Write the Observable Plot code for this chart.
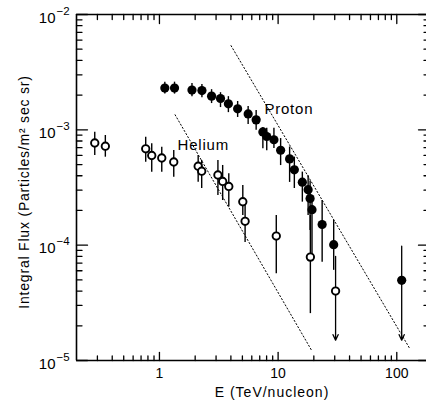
<!DOCTYPE html>
<html><head><meta charset="utf-8">
<script src="https://cdn.jsdelivr.net/npm/d3@7"></script>
<script src="https://cdn.jsdelivr.net/npm/@observablehq/plot@0.6"></script>
<style>
html,body{margin:0;padding:0;background:#fff;} #chart{width:426px;height:402px;}
</style>
</head><body><div id="chart"></div>
<script>
// ---- data ----
const protonE  = [1.11,1.34,1.88,2.28,2.75,3.27,3.81,4.56,5.59,6.53,7.44,8.02,9.22,10.5,12.5,13.7,16.0,17.9,18.6,19.3,23.5,29.4,110];
const protonF  = [2.30e-3,2.30e-3,2.21e-3,2.19e-3,1.96e-3,1.87e-3,1.68e-3,1.52e-3,1.375e-3,1.22e-3,9.6e-4,8.75e-4,8.2e-4,6.65e-4,5.6e-4,4.5e-4,3.52e-4,3.03e-4,2.54e-4,2.03e-4,1.51e-4,1.01e-4,4.96e-5];
const protonHi = [2.59e-3,2.59e-3,2.52e-3,2.47e-3,2.23e-3,2.10e-3,1.94e-3,1.76e-3,1.59e-3,1.47e-3,1.05e-3,1.03e-3,1.03e-3,8.4e-4,7.1e-4,5.8e-4,4.3e-4,4.0e-4,3.6e-4,2.7e-4,2.44e-4,1.64e-4,9.8e-5];
const protonLo = [2.04e-3,2.04e-3,1.94e-3,1.90e-3,1.69e-3,1.56e-3,1.41e-3,1.28e-3,1.11e-3,9.9e-4,6.85e-4,6.6e-4,6.9e-4,4.9e-4,3.5e-4,3.1e-4,2.36e-4,1.81e-4,1.34e-4,8.2e-5,7.1e-5,6.05e-5,1.5e-5];
const protonLimit = [0,0,0,0,0,0,0,0,0,0,0,0,0,0,0,0,0,0,0,0,0,0,1];

const heliumE  = [0.285,0.35,0.766,0.861,1.046,1.32,2.12,2.27,3.11,3.41,3.84,5.04,5.27,9.65,18.7,30.5];
const heliumF  = [7.69e-4,7.21e-4,6.85e-4,5.99e-4,5.70e-4,5.26e-4,4.84e-4,4.38e-4,4.06e-4,3.57e-4,3.23e-4,2.38e-4,1.61e-4,1.20e-4,7.88e-5,4.00e-5];
const heliumHi = [9.53e-4,8.93e-4,8.63e-4,7.56e-4,7.07e-4,6.62e-4,5.99e-4,5.42e-4,5.42e-4,4.91e-4,4.16e-4,3.29e-4,2.21e-4,1.81e-4,1.81e-4,8.0e-5];
const heliumLo = [5.99e-4,5.79e-4,5.24e-4,4.29e-4,4.29e-4,3.89e-4,3.52e-4,3.10e-4,2.70e-4,2.44e-4,2.14e-4,1.81e-4,1.057e-4,5.66e-5,2.55e-5,1.5e-5];
const heliumLimit = [0,0,0,0,0,0,0,0,0,0,0,0,0,0,0,1];

const protonFitE = [4.01, 128];
const protonFitF = [5.37e-3, 1.28e-5];
const heliumFitE = [1.355, 19.1];
const heliumFitF = [1.35e-3, 1.23e-5];

const seriesNames  = ["Proton", "Helium"];
const seriesLabelE = [7.66, 1.42];
const seriesLabelF = [1.50e-3, 7.41e-4];

const xDomain = [0.2, 178];
const yDomain = [1e-5, 1e-2];
const xMajor = [1, 10, 100];
const xMajorLabels = ["1", "10", "100"];
const xMinor = [0.3,0.4,0.5,0.6,0.7,0.8,0.9,2,3,4,5,6,7,8,9,20,30,40,50,60,70,80,90];
const yMajor = [1e-2, 1e-3, 1e-4, 1e-5];
const yMajorExp = ["\u22122", "\u22123", "\u22124", "\u22125"];
const yMinor = [2e-5,3e-5,4e-5,5e-5,6e-5,7e-5,8e-5,9e-5,2e-4,3e-4,4e-4,5e-4,6e-4,7e-4,8e-4,9e-4,2e-3,3e-3,4e-3,5e-3,6e-3,7e-3,8e-3,9e-3];

const xTitle = "E (TeV/nucleon)";
const yTitle = "Integral Flux (Particles/m\u00b2 sec sr)";

// ---- tables ----
const protons = protonE.map((E, i) => ({E, F: protonF[i], hi: protonHi[i], lo: protonLo[i], lim: protonLimit[i]}));
const heliums = heliumE.map((E, i) => ({E, F: heliumF[i], hi: heliumHi[i], lo: heliumLo[i], lim: heliumLimit[i]}));
const protonFit = protonFitE.map((E, i) => ({E, F: protonFitF[i]}));
const heliumFit = heliumFitE.map((E, i) => ({E, F: heliumFitF[i]}));
const seriesLabels = seriesNames.map((name, i) => ({name, E: seriesLabelE[i], F: seriesLabelF[i]}));

const FONT = "'Liberation Sans', Arial, Helvetica, sans-serif";
const tickShape = {draw(context, l) { context.moveTo(0, 0); context.lineTo(0, -l); }};
function tickMarks(values, channel, anchor, rotate, length) {
  return Plot.vector(values, {[channel]: d => d, frameAnchor: anchor, rotate, length, anchor: "start",
    shape: tickShape, stroke: "black", strokeWidth: 1.3});
}

const chart = Plot.plot({
  width: 426, height: 402,
  marginLeft: 76, marginRight: 0, marginTop: 14, marginBottom: 42,
  style: {background: "#fff", fontFamily: FONT, color: "black"},
  x: {type: "log", domain: xDomain, axis: null},
  y: {type: "log", domain: yDomain, axis: null},
  marks: [
    // frame lines (left, bottom, top)
    Plot.ruleX([xDomain[0]], {stroke: "black", strokeWidth: 1.6}),
    Plot.ruleY(yDomain, {stroke: "black", strokeWidth: 1.6}),
    // inward ticks
    tickMarks(xMajor, "x", "bottom", 0, 8),
    tickMarks(xMinor, "x", "bottom", 0, 4.5),
    tickMarks(xMajor, "x", "top", 180, 9),
    tickMarks(xMinor, "x", "top", 180, 5),
    tickMarks(yMajor, "y", "left", 90, 11),
    tickMarks(yMinor, "y", "left", 90, 5.5),
    tickMarks(yMajor, "y", "right", -90, 8),
    tickMarks(yMinor, "y", "right", -90, 2.5),
    // tick labels
    Plot.text(xMajor, {x: d => d, frameAnchor: "bottom", dy: 13, lineAnchor: "middle", textAnchor: "middle", text: (d, i) => xMajorLabels[i], fontSize: 14, fill: "black"}),
    Plot.text(yMajor, {y: d => d, frameAnchor: "left", dx: -21, dy: 3.5, lineAnchor: "middle", textAnchor: "end", text: () => "10", fontSize: 15, fill: "black"}),
    Plot.text(yMajor, {y: d => d, frameAnchor: "left", dx: -20, dy: -3.5, lineAnchor: "middle", textAnchor: "start", text: (d, i) => yMajorExp[i], fontSize: 11.5, fill: "black"}),
    // axis titles
    Plot.text([xTitle], {frameAnchor: "bottom", text: d => d, dx: 20.5, dy: 32, lineAnchor: "middle", textAnchor: "middle", fontSize: 14, fill: "black"}),
    Plot.text([yTitle], {frameAnchor: "left", text: d => d, rotate: -90, dx: -52, dy: 4.5, lineAnchor: "middle", textAnchor: "middle", fontSize: 14, fill: "black"}),
    // fitted power laws
    Plot.line(protonFit, {x: "E", y: "F", stroke: "black", strokeWidth: 1, strokeDasharray: "1.3,2.3"}),
    Plot.line(heliumFit, {x: "E", y: "F", stroke: "black", strokeWidth: 1, strokeDasharray: "1.3,2.3"}),
    // error bars
    Plot.ruleX(protons.filter(d => !d.lim), {x: "E", y1: "lo", y2: "hi", stroke: "black", strokeWidth: 1.4}),
    Plot.ruleX(heliums.filter(d => !d.lim), {x: "E", y1: "lo", y2: "hi", stroke: "black", strokeWidth: 1.4}),
    Plot.arrow(protons.filter(d => d.lim), {x: "E", y1: "hi", y2: "lo", stroke: "black", strokeWidth: 1.3, headLength: 7, headAngle: 50}),
    Plot.arrow(heliums.filter(d => d.lim), {x: "E", y1: "hi", y2: "lo", stroke: "black", strokeWidth: 1.3, headLength: 7, headAngle: 50}),
    // points
    Plot.dot(protons, {x: "E", y: "F", r: 4.6, fill: "black", stroke: "none"}),
    Plot.dot(heliums, {x: "E", y: "F", r: 3.7, fill: "white", stroke: "black", strokeWidth: 1.9}),
    // series labels
    Plot.text(seriesLabels, {x: "E", y: "F", text: "name", textAnchor: "start", lineAnchor: "middle", fontSize: 15, fill: "black"})
  ]
});
// letter spacing for titles and series labels, as in the scanned figure
const spacing = new Map([[xTitle, "1px"], [yTitle, "0.8px"], ...seriesNames.map(n => [n, "0.8px"])]);
d3.select(chart).selectAll("text").each(function () {
  const s = spacing.get(this.textContent);
  if (s) this.setAttribute("letter-spacing", s);
});
document.getElementById("chart").appendChild(chart);
</script>
</body></html>
